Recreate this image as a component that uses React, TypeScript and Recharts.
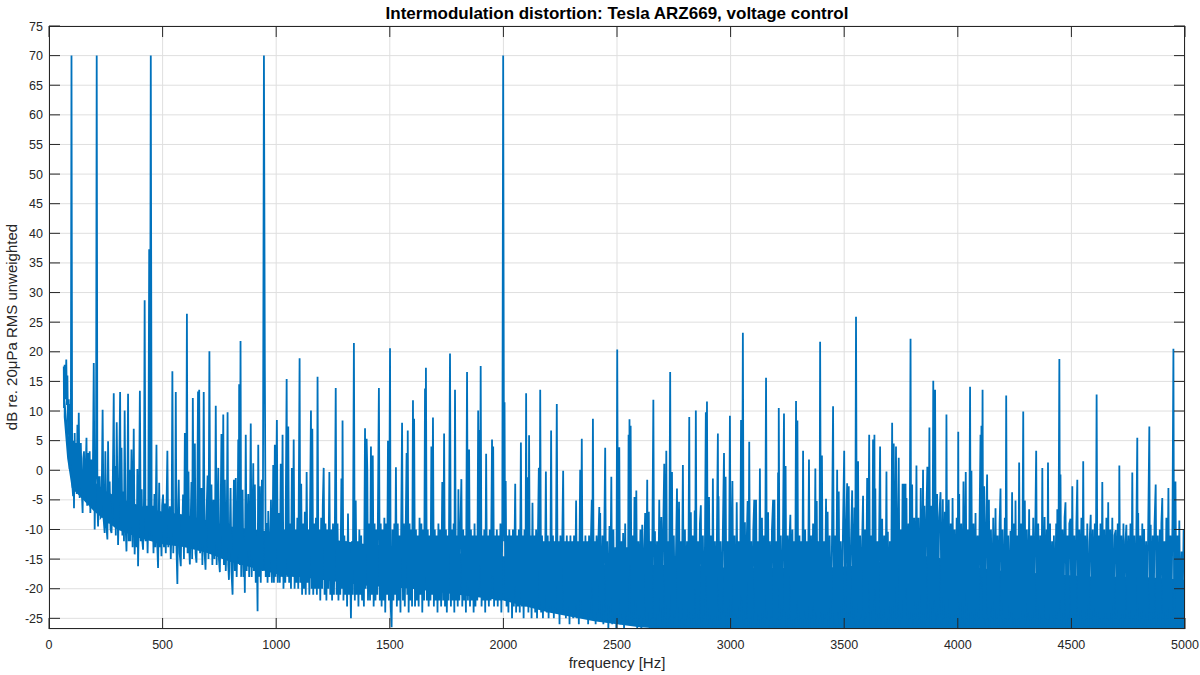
import { ComposedChart, Line, Area, XAxis, YAxis, CartesianGrid } from "recharts";

const LINE_COLOR = "#0072BD";
const AXIS_COLOR = "#262626";
const FONT = '"Liberation Sans", Arial, Helvetica, sans-serif';

// plot box edges (px), used for the inward MATLAB-style ticks
const PLOT_L = 49;
const PLOT_R = 1185;
const PLOT_T = 26;
const PLOT_B = 629;
const TICK_LEN = 11;

const xTicks = [0, 500, 1000, 1500, 2000, 2500, 3000, 3500, 4000, 4500, 5000];
const yTicks = [-25, -20, -15, -10, -5, 0, 5, 10, 15, 20, 25, 30, 35, 40, 45, 50, 55, 60, 65, 70, 75];

// dense noise floor (solid part of the trace)
const bandFreq = [65, 80, 100, 150, 200, 250, 300, 400, 500, 600, 700, 800, 900, 1000, 1200, 1400, 1600, 1800, 2000, 2200, 2400, 2600, 2800, 3000, 3200, 3400, 3600, 3750, 3900, 4000, 4200, 4400, 4600, 4800, 5000];
const bandTop = [15, 8, 2, 0, -2, -3.5, -4.5, -6, -7, -7.5, -8.5, -9.5, -10, -10.5, -11.5, -12.5, -13, -14, -14.5, -15.5, -16, -16, -16, -16.5, -16.5, -16.5, -16, -14.5, -14.5, -16, -17, -17.5, -18, -18, -18.5];
const bandBottom = [9, 2, -3, -5, -7, -8.5, -10, -11.5, -12.5, -13, -14, -15.5, -16.5, -17.5, -18.5, -19.5, -20, -21, -22, -24, -25.5, -26.5, -27, -27, -27, -27, -27, -27, -27, -27, -27, -27, -27, -27, -27];

// spectrum trace [Hz, dB], peaks and dips
const spec0to1000 = [
  [65, 17.5], [66, 10.5], [69, 17.8], [72, 12], [76, 18.7], [79, 11], [81, 16], [84, 6], [87, 12], [90, 2.9],
  [91, 0.2], [94, 11.2], [96, 1], [99, 70], [102, -2], [106, -4.4], [108, 5], [110, -6.4], [113, 6.3], [116, -3],
  [119, 4.6], [122, -4], [125, 7.7], [128, -2], [131, 9.7], [135, -4.7], [140, 4.6], [144, -3], [148, -7.2], [151, 2],
  [154, 3.2], [158, -5], [165, 5.5], [168, -6], [172, 2.9], [176, -5], [179, 3.2], [182, -7.2], [187, 1.8], [192, -6],
  [197, 18.1], [201, -10], [204, -2], [207, 0.4], [210, 70], [213, -6], [216, -9.5], [219, -1], [221, -7], [223, -1],
  [227, -8], [231, -7.8], [236, 10.2], [240, -8], [245, -10.6], [248, 3.2], [252, -9], [257, -11.7], [260, 4.9], [264, -9],
  [267, -1.9], [271, -10], [275, -10.6], [280, -5], [285, 13], [288, -9], [291, 0.7], [294, -11], [298, 8.1], [304, -12.6],
  [308, -4], [313, 13.2], [316, -10], [319, 3.8], [323, -11], [326, -3.6], [330, -12], [333, 10.1], [337, -9], [341, -13.7],
  [345, -5], [348, 12.9], [351, -12], [354, 0.1], [358, -12], [363, 3.5], [368, -13], [373, 7], [377, -14.2], [382, -6],
  [386, -13], [389, 0.2], [392, -16.2], [396, -7], [400, 13.4], [404, -12], [408, -3.2], [411, -12], [414, -13.4], [418, -5],
  [421, 28.7], [425, -12], [430, -6], [434, -14], [437, -8], [441, 37.3], [444, -10], [448, 70], [452, -11], [456, -6],
  [460, -14], [464, -4], [468, -13], [473, 4.3], [476, -12], [480, -16.5], [485, -2.1], [489, -13], [492, -8], [495, -14.5],
  [498, -6], [502, -4.1], [506, -13], [510, -5.6], [514, -14], [517, -7], [521, 3.3], [525, -13], [528, -9], [532, -6.1],
  [536, -15], [540, -8], [543, 16.7], [547, -14], [551, -7.8], [555, -12], [558, 13.2], [561, -13], [565, -19.2], [568, -7],
  [571, -1.6], [575, -14], [580, -16.2], [583, -8], [586, -12], [590, -4.1], [594, -15], [598, 6.3], [601, -13], [604, -9],
  [607, 26.4], [610, -14], [614, -0.2], [617, -13], [620, -15.9], [624, -8], [627, -2], [630, -15], [633, 12.2], [637, -13],
  [642, 4.5], [645, -14], [649, -15.6], [652, -9], [656, 13.3], [658, -12], [661, 13.6], [665, -14], [668, -9], [671, -3],
  [675, -16], [678, -10], [681, 13.2], [685, -14], [689, -16.8], [693, -8], [698, -0.9], [702, -15], [706, 20.1], [710, -14],
  [715, -2.4], [719, -16], [724, -5], [728, -15], [731, -9], [734, 10.9], [738, -16], [741, -10], [745, 0.4], [748, -15],
  [752, -17.2], [755, -9], [759, 6.1], [763, -15], [767, 9.4], [770, -16], [774, -1.6], [778, -17], [782, -11], [786, 9.8],
  [789, -16], [792, -18.5], [796, -10], [799, -3], [803, -17], [808, -21], [811, -10], [814, -1.6], [818, -17], [822, -1.3],
  [826, -18], [830, -10], [833, 5.2], [835, -14], [837, 14.5], [840, -16], [843, 21.8], [846, -18], [849, -11], [852, -3.3],
  [856, -18], [859, -12], [862, -20.7], [866, 6], [870, -17], [873, -11], [877, -4], [881, -18], [884, -12], [888, 7.9],
  [892, -18], [895, -12], [899, 1.2], [902, -17], [906, -2.4], [910, -19], [914, -11], [918, -23.8], [921, 4.3], [925, -18],
  [928, -2.7], [932, -19], [937, -1.6], [941, -17], [946, 70], [950, 16.9], [954, -18], [959, -8.9], [962, -19], [965, -6.9],
  [970, -18], [974, -12], [977, -5], [981, -19], [984, -13], [987, 0.9], [990, -19], [994, 4.3], [997, -18], [1003, 8.5],
  [1007, -19], [1012, -7.2],
];

const spec1000to2400 = [
  [1016, -19], [1020, 1.1], [1024, -18], [1028, 6], [1032, -20], [1036, -10], [1040, -19], [1046, 15.4], [1049, -18], [1053, 7.4],
  [1057, -19], [1061, -9], [1065, -20], [1069, 0.4], [1073, -18], [1077, 5.2], [1081, -20], [1085, -10], [1089, -19], [1093, -8],
  [1097, -20], [1103, 18.9], [1106, -19], [1110, -2.3], [1114, -21], [1118, -9], [1122, -20], [1126, -7], [1130, -21], [1134, -0.3],
  [1138, -19], [1142, -10], [1146, -21], [1149, -7], [1153, 10.1], [1156, -20], [1159, 7], [1163, -21], [1167, -9], [1171, -20],
  [1175, -8], [1179, -21], [1182, 15.8], [1186, -20], [1190, -10], [1194, -22], [1198, -8], [1202, -20], [1205, -6], [1209, 0.4],
  [1213, -21], [1217, -9], [1221, -22], [1225, -10], [1229, -20], [1234, -0.3], [1238, -21], [1242, -10], [1246, -22], [1250, -9],
  [1254, -21], [1258, -11], [1262, 13.9], [1266, -21], [1270, -9], [1274, -22], [1278, -12], [1282, -21], [1287, -1.4], [1290, -20],
  [1292, 8.4], [1296, -22], [1300, -11], [1304, -21], [1308, -12], [1312, -23], [1316, -7.3], [1320, -21], [1324, -13], [1329, -25],
  [1333, -12], [1337, -21], [1342, 21.5], [1346, -22], [1350, -5.1], [1354, -21], [1358, -12], [1362, -23], [1366, -10], [1370, -21],
  [1374, -11], [1378, -22], [1382, -13], [1386, -23], [1391, 7.1], [1394, -20], [1398, 5.3], [1401, -0.1], [1404, -22], [1409, -9],
  [1413, -22], [1417, 4], [1421, -21], [1425, 2.5], [1429, -23], [1433, -9], [1437, -22], [1441, -10], [1445, -21], [1452, 13.9],
  [1456, -22], [1460, -9], [1464, -23], [1468, -10], [1472, -22], [1476, -8], [1480, -24], [1484, -9], [1488, -21], [1492, 5],
  [1496, -22], [1501, 20.6], [1504, -23], [1508, -26.5], [1512, -10], [1516, -22], [1520, -9], [1523, -21], [1527, 0.5], [1531, -23],
  [1535, -9], [1539, -22], [1543, -11], [1547, -24], [1554, 8], [1558, -22], [1562, -9], [1566, -23], [1570, -10], [1574, 2.9],
  [1577, -21], [1579, 6.7], [1583, -24], [1587, -9], [1591, -22], [1595, -10], [1598, -23], [1602, 11.8], [1605, -20], [1607, 8.7],
  [1611, -23], [1615, -10], [1619, -22], [1623, -11], [1627, -23], [1631, -8], [1635, -21], [1639, -9], [1643, -24], [1647, -10],
  [1651, -22], [1655, 13.8], [1657, -18], [1659, 17.3], [1663, -22], [1667, -10], [1671, -23], [1675, -11], [1679, -22], [1683, 4],
  [1686, -21], [1690, 8.9], [1694, -23], [1698, -10], [1702, -22], [1706, -11], [1710, -24], [1714, -9], [1718, -22], [1722, -10],
  [1726, -23], [1731, -2], [1735, -22], [1739, 6.2], [1743, -23], [1747, -10], [1751, -24], [1755, -11], [1759, -22], [1765, 19.7],
  [1769, -23], [1773, -10], [1777, -22], [1781, -9], [1784, -24], [1787, 13.6], [1791, -22], [1795, -11], [1799, -23], [1802, -3.2],
  [1806, -22], [1810, -11], [1815, -1.5], [1819, -23], [1823, -10], [1827, -22], [1831, -11], [1835, -24], [1840, 16.6], [1844, -22],
  [1849, 3.5], [1853, -23], [1857, -10], [1861, -22], [1865, -11], [1869, -24], [1873, -9], [1877, -23], [1881, -11], [1885, -22],
  [1889, 10.1], [1892, -20], [1894, 6.8], [1897, -16], [1900, 17.6], [1904, -23], [1908, -11], [1912, -22], [1916, -10], [1920, -24],
  [1924, 2.8], [1928, -22], [1932, -11], [1936, -23], [1940, -10], [1944, -22], [1950, 5.2], [1953, -18], [1955, 4], [1959, -23],
  [1963, -11], [1967, -22], [1971, -10], [1975, -23], [1979, -11], [1983, -22], [1987, -9], [1991, -24], [1995, -11], [1999, 70],
  [2003, -12], [2005, 11.5], [2008, -22], [2010, -1.8], [2014, -23], [2018, -11], [2022, -24], [2026, -10], [2030, -22], [2034, -11],
  [2038, -25], [2042, -10], [2046, -23], [2052, -2.3], [2056, -24], [2060, -11], [2064, -23], [2068, -10], [2072, -24], [2077, 4.7],
  [2081, -23], [2085, -11], [2089, -25], [2093, -10], [2097, -23], [2100, 13], [2103, -22], [2106, -1.2], [2110, -24], [2113, 5.9],
  [2117, -23], [2121, -11], [2124, -25], [2128, -5.5], [2132, -23], [2136, -11], [2140, -24], [2144, -10], [2148, -25], [2152, -11],
  [2156, 0.4], [2159, -22], [2162, 13.6], [2166, -24], [2170, -11], [2174, -25], [2178, -12], [2182, -23], [2187, -0.2], [2191, -24],
  [2195, -11], [2199, -25], [2203, -12], [2206, -23], [2210, 6.7], [2214, -24], [2218, -11], [2222, -25], [2226, -12], [2230, -23],
  [2235, 11.2], [2239, -24], [2243, -12], [2247, -26], [2251, -11], [2255, -24], [2259, -12], [2263, -0.1], [2267, -24], [2271, -12],
  [2275, -25], [2279, -11], [2283, -23], [2287, -12], [2291, -26], [2295, -11], [2299, -24], [2303, -12], [2307, -25], [2311, -11],
  [2315, -24], [2320, -5.1], [2324, -25], [2328, -12], [2332, -26], [2338, 0.1], [2341, -22], [2345, 5.3], [2349, -24], [2353, -12],
  [2357, -25], [2361, -11], [2365, -24], [2369, -12], [2373, -26], [2377, -11], [2381, -24], [2385, -12], [2389, -5], [2391, -20],
  [2394, 8.7], [2398, -25], [2402, -12], [2406, -26], [2410, -11], [2414, -24], [2418, -12], [2422, -6.2],
];

const spec2400to3740 = [
  [2424, -22], [2426, -7.2], [2430, -25], [2436, -11], [2440, -26], [2448, 3.8], [2452, -24], [2457, -12], [2462, -27], [2467, -9.4],
  [2470, -23], [2475, -1.1], [2479, -26], [2484, -10], [2488, -25], [2493, -13], [2497, -27], [2501, 20.4], [2505, -24], [2510, 3.9],
  [2514, -26], [2519, -12], [2523, -25], [2527, -10.6], [2531, -27], [2536, -9], [2540, -24], [2545, -13], [2548, -26], [2551, 6],
  [2553, -18], [2555, 8.6], [2557, -16], [2560, 7.5], [2564, -26], [2569, -11], [2573, -25], [2577, -4.5], [2581, -22], [2585, -3.4],
  [2589, -27], [2594, -12], [2598, -25], [2603, -10], [2607, -28], [2611, -9.2], [2615, -25], [2620, -13], [2624, -7.2], [2628, -26],
  [2633, -1.6], [2636, -24], [2640, -7], [2644, -27], [2648, -12], [2652, -25], [2656, -10], [2660, 11.9], [2664, -26], [2667, -10.3],
  [2671, -25], [2676, -12], [2680, -27], [2686, -5], [2690, -24], [2695, -7.9], [2699, -26], [2703, -11], [2708, 1.1], [2712, -25],
  [2717, 3.3], [2721, -27], [2725, -12], [2729, -25], [2734, 16.6], [2738, -26], [2742, -0.3], [2746, -27], [2750, -11], [2755, -25],
  [2760, -13], [2764, -3.1], [2768, -24], [2773, -5.3], [2777, -27], [2781, -12], [2785, -25], [2790, 0.9], [2794, -26], [2799, -10],
  [2803, -28], [2808, -12], [2813, -25], [2818, 9], [2821, -24], [2825, -7.1], [2829, -27], [2833, -11], [2838, -25], [2842, -6.8],
  [2844, -20], [2847, 10.1], [2851, -26], [2856, -12], [2860, -25], [2865, -9], [2869, -5.9], [2873, -27], [2878, -11], [2882, -25],
  [2887, -13], [2891, 9.8], [2893, -18], [2896, 11.6], [2900, -26], [2905, -4.5], [2909, -25], [2913, -11], [2918, -27], [2922, -1.4],
  [2926, -25], [2931, -12], [2935, -28], [2940, -10], [2944, 6.2], [2946, -20], [2947, -4.4], [2951, -26], [2956, -12], [2961, -25],
  [2966, -10], [2971, 2.9], [2974, -24], [2978, -1.1], [2982, -27], [2987, -12], [2992, -25], [2997, 9.2], [3001, -26], [3008, -1.8],
  [3012, -25], [3017, -11], [3022, -28], [3027, -5.4], [3031, -25], [3036, -12], [3041, -26], [3046, 8.5], [3050, -22], [3054, 23.2],
  [3058, -26], [3063, -8.8], [3067, -25], [3071, -12], [3075, -5.2], [3078, -27], [3082, 4.8], [3086, -25], [3091, -12], [3095, -28],
  [3100, -10], [3104, -5], [3108, -24], [3112, -5], [3116, -26], [3120, -12], [3125, -25], [3129, 0.3], [3133, -27], [3138, -8],
  [3142, -25], [3147, -11], [3151, -26], [3156, 15.6], [3160, -25], [3165, -7.1], [3169, -27], [3173, -12], [3178, -25], [3182, -10],
  [3187, -5], [3190, -26], [3193, -5], [3197, -28], [3202, -12], [3206, -25], [3209, -0.4], [3211, -20], [3212, 10.5], [3216, -26],
  [3221, -11], [3226, -25], [3230, -13], [3235, 9.6], [3238, -24], [3242, 0.7], [3246, -27], [3251, -11], [3255, -25], [3259, -12],
  [3263, -7.5], [3267, -26], [3272, -10], [3276, -28], [3280, -12], [3284, -25], [3288, 11.7], [3291, -22], [3294, 8.4], [3298, -26],
  [3303, -11], [3307, -25], [3311, -12], [3315, -27], [3319, 3.3], [3323, -25], [3328, -10], [3332, -26], [3336, -12], [3340, -25],
  [3345, 1.8], [3349, -27], [3354, -11], [3358, -25], [3363, -9], [3368, -26], [3373, 0.3], [3376, -24], [3379, -5.2], [3383, -27],
  [3388, -12], [3391, -25], [3394, 21.7], [3398, -24], [3402, 2.5], [3406, -26], [3411, -12], [3415, -25], [3420, -4.8], [3423, -24],
  [3427, -7], [3431, -27], [3436, -11], [3441, -25], [3446, -13], [3451, 10.8], [3455, -26], [3460, -11], [3464, -28], [3469, 0.1],
  [3472, -24], [3476, -3.6], [3480, -26], [3485, -12], [3490, -25], [3495, -9], [3500, 3.3], [3504, -27], [3508, -11], [3513, -2.2],
  [3516, -24], [3520, -2.7], [3524, -26], [3530, -12], [3535, -3.4], [3539, -25], [3545, -6.3], [3548, -26], [3552, 25.9], [3556, -24],
  [3561, 1.5], [3565, -27], [3570, -11], [3574, -25], [3579, -12], [3583, -4.3], [3587, -26], [3592, -10], [3596, -25], [3601, -1.3],
  [3604, -24], [3610, 6], [3614, -26], [3619, -11], [3623, -24], [3627, 5.2], [3630, -22], [3633, 6], [3635, -20], [3637, -3.1],
  [3641, -26], [3646, -12], [3650, -25], [3654, -10], [3658, 4], [3662, -26], [3667, -8.2], [3671, -25], [3676, -11], [3681, -27],
  [3686, -0.2], [3689, -25], [3692, -10.4], [3696, -26], [3701, -12], [3706, -25], [3711, 8], [3714, -22], [3718, 4.5], [3722, -26],
  [3728, 4], [3732, -25], [3736, -11], [3740, 2.1],
];

const spec3740to5000 = [
  [3744, -26], [3749, -10], [3753, -25], [3757, -2.3], [3760, -22], [3764, -2.3], [3767, -22], [3770, -2.3], [3772, -20], [3774, -4.7],
  [3778, -26], [3783, -9], [3787, -25], [3792, 22.2], [3795, -24], [3799, -2.4], [3803, -26], [3808, -8], [3813, -25], [3818, 0.8],
  [3822, -26], [3827, -8], [3832, -25], [3837, -3], [3842, -26], [3847, 0.1], [3850, -24], [3853, -6], [3857, -26], [3861, -9],
  [3866, 0.6], [3870, -25], [3875, 7.2], [3879, -26], [3884, -6], [3888, -24], [3892, 15.1], [3896, -22], [3900, 13.6], [3904, -26],
  [3909, -4], [3913, -25], [3918, -8], [3924, -3.7], [3928, -26], [3934, -4.9], [3938, -25], [3943, -7], [3947, -24], [3950, 9.4],
  [3954, -26], [3960, -5], [3964, -25], [3969, -9], [3973, -27], [3977, -4.7], [3981, -25], [3986, -10], [3990, -26], [3995, -8],
  [3999, -24], [4002, 6.5], [4004, -20], [4006, -4], [4010, -26], [4015, -9], [4020, -25], [4025, -1.9], [4029, -26], [4035, -0.3],
  [4039, -25], [4044, -10], [4049, -26], [4054, 14.1], [4057, -24], [4060, -0.1], [4064, -27], [4069, -9], [4073, -25], [4078, -7.2],
  [4082, -26], [4087, -11], [4091, -25], [4096, -8], [4100, 6], [4102, -20], [4104, 7.5], [4106, -18], [4109, 13.6], [4112, -25],
  [4116, -2.7], [4120, -26], [4125, -9], [4129, -0.7], [4133, -25], [4137, -5], [4141, -27], [4146, -10], [4151, -25], [4156, -8],
  [4161, -26], [4166, -6.4], [4170, -25], [4175, -11], [4179, -27], [4184, -9], [4188, -3.1], [4192, -25], [4197, -10], [4202, -26],
  [4207, -8], [4210, -25], [4213, 12.6], [4217, -26], [4222, -11], [4227, -25], [4232, -10.2], [4235, -24], [4239, -3.7], [4243, -26],
  [4248, -9], [4251, -25], [4254, -5.1], [4258, -27], [4263, -11], [4266, -25], [4270, 1.3], [4274, -26], [4279, -9], [4283, -25],
  [4288, 9.9], [4291, -24], [4295, -5.1], [4299, -26], [4304, -10], [4309, -25], [4314, -6.6], [4318, -27], [4323, -11], [4327, -25],
  [4332, -8], [4336, -26], [4341, -10], [4345, 3.3], [4349, -25], [4354, -9], [4359, -27], [4363, -11], [4368, -25], [4372, 0.4],
  [4376, -26], [4382, -7.9], [4386, -25], [4391, -10], [4394, -26], [4397, 1.3], [4401, -25], [4406, -9], [4410, -27], [4415, -12],
  [4419, -25], [4423, -11], [4427, -26], [4433, -9], [4436, -25], [4438, -6.6], [4442, -24], [4447, 18.8], [4450, -22], [4452, -0.7],
  [4456, -26], [4461, -10], [4465, -25], [4470, -8], [4474, -5.4], [4478, -27], [4483, -11], [4487, -25], [4491, -9], [4496, -8.2],
  [4500, -26], [4504, -2.7], [4508, -25], [4513, -11], [4517, -27], [4522, -9], [4526, -1.6], [4530, -25], [4535, -10], [4539, -26],
  [4544, -8], [4548, -25], [4552, 1.5], [4556, -26], [4561, -11], [4565, -25], [4570, -9], [4575, -27], [4580, -12], [4585, -7.5],
  [4589, -25], [4594, -10], [4598, -26], [4603, -9], [4607, -24], [4611, 12.8], [4615, -26], [4620, -11], [4624, -25], [4628, -9],
  [4632, -26], [4636, -2], [4640, -25], [4645, -10], [4649, -27], [4654, -8], [4658, -25], [4662, -5.4], [4666, -26], [4671, -10],
  [4675, -25], [4680, -8], [4685, -27], [4690, -11], [4695, -10.1], [4699, -25], [4704, -9], [4708, -26], [4711, 0.8], [4715, -25],
  [4720, -11], [4724, -27], [4729, -9], [4733, -25], [4738, -12], [4742, -9.2], [4746, -26], [4751, -11], [4755, -25], [4760, -9],
  [4764, -26], [4768, -0.4], [4772, -25], [4777, -11], [4781, -27], [4786, -10], [4790, 5.5], [4792, -22], [4794, -7.2], [4798, -26],
  [4803, -11], [4807, -25], [4812, -9], [4816, -26], [4820, -9.9], [4824, -25], [4829, -12], [4833, -27], [4838, -10], [4843, 7.4],
  [4846, -24], [4849, -9.2], [4853, -26], [4858, -11], [4862, -25], [4866, -9], [4871, -2.4], [4875, -26], [4880, -11], [4884, -25],
  [4889, -10], [4893, -27], [4896, -9], [4900, -4.7], [4904, -25], [4909, -12], [4913, -26], [4918, -8], [4922, -25], [4927, -3],
  [4931, -26], [4936, -11], [4940, -25], [4945, -8], [4949, 20.5], [4952, -24], [4955, -6], [4958, -1.9], [4962, -26], [4967, -11],
  [4971, -25], [4975, -8.5], [4979, -26], [4985, -13.7], [4989, -25], [4994, -10], [4999, -11.2],
];

const traceData = [...spec0to1000, ...spec1000to2400, ...spec2400to3740, ...spec3740to5000].map(([f, db]) => ({ f, db }));
const bandData = bandFreq.map((f, i) => ({ f, range: [bandBottom[i], bandTop[i]] }));

function XTick(props: any) {
  const { x, y, payload } = props;
  return (
    <g>
      <line x1={x} x2={x} y1={PLOT_B} y2={PLOT_B - TICK_LEN} stroke={AXIS_COLOR} />
      <line x1={x} x2={x} y1={PLOT_T} y2={PLOT_T + TICK_LEN} stroke={AXIS_COLOR} />
      <text x={x} y={y} dy="0.71em" textAnchor="middle" fill={AXIS_COLOR} fontSize={12.5} fontFamily={FONT}>
        {payload.value}
      </text>
    </g>
  );
}

function YTick(props: any) {
  const { x, y, payload } = props;
  return (
    <g>
      <line x1={PLOT_L} x2={PLOT_L + TICK_LEN} y1={y} y2={y} stroke={AXIS_COLOR} />
      <line x1={PLOT_R - TICK_LEN} x2={PLOT_R} y1={y} y2={y} stroke={AXIS_COLOR} />
      <text x={x} y={y} dy="0.36em" textAnchor="end" fill={AXIS_COLOR} fontSize={12.5} fontFamily={FONT}>
        {payload.value}
      </text>
    </g>
  );
}

export default function App() {
  return (
    <div style={{ position: "absolute", left: 0, top: 0, width: 1200, height: 675, background: "#fff", fontFamily: FONT }}>
      <ComposedChart width={1200} height={675} margin={{ top: PLOT_T, right: 1200 - PLOT_R, bottom: 0, left: 0 }}>
        <CartesianGrid stroke="#dfdfdf" />
        <Area
          data={bandData}
          dataKey="range"
          type="linear"
          stroke="none"
          fill={LINE_COLOR}
          fillOpacity={1}
          isAnimationActive={false}
        />
        <Line
          data={traceData}
          dataKey="db"
          type="linear"
          stroke={LINE_COLOR}
          strokeWidth={1.8}
          dot={false}
          isAnimationActive={false}
        />
        <XAxis
          type="number"
          dataKey="f"
          domain={[0, 5000]}
          ticks={xTicks}
          interval={0}
          allowDataOverflow
          height={675 - PLOT_B}
          tickSize={0}
          tickMargin={11}
          tickLine={false}
          axisLine={false}
          tick={<XTick />}
        />
        <YAxis
          type="number"
          domain={[-26.8, 75]}
          ticks={yTicks}
          interval={0}
          allowDataOverflow
          width={PLOT_L}
          tickSize={0}
          tickMargin={6}
          tickLine={false}
          axisLine={false}
          tick={<YTick />}
        />
      </ComposedChart>
      <svg width={1200} height={675} style={{ position: "absolute", left: 0, top: 0, pointerEvents: "none" }}>
        <rect x={PLOT_L + 0.5} y={PLOT_T + 0.5} width={PLOT_R - PLOT_L - 1} height={PLOT_B - PLOT_T - 1} fill="none" stroke={AXIS_COLOR} />
        <text x={617} y={19} textAnchor="middle" fontSize={17} fontWeight="bold" fill="#000" fontFamily={FONT}>
          Intermodulation distortion: Tesla ARZ669, voltage control
        </text>
        <text x={617} y={668} textAnchor="middle" fontSize={15} fill={AXIS_COLOR} fontFamily={FONT}>
          frequency [Hz]
        </text>
        <text
          x={17}
          y={327}
          transform="rotate(-90 17 327)"
          textAnchor="middle"
          fontSize={15}
          fill={AXIS_COLOR}
          fontFamily={FONT}
        >
          dB re. 20μPa RMS unweighted
        </text>
      </svg>
    </div>
  );
}
